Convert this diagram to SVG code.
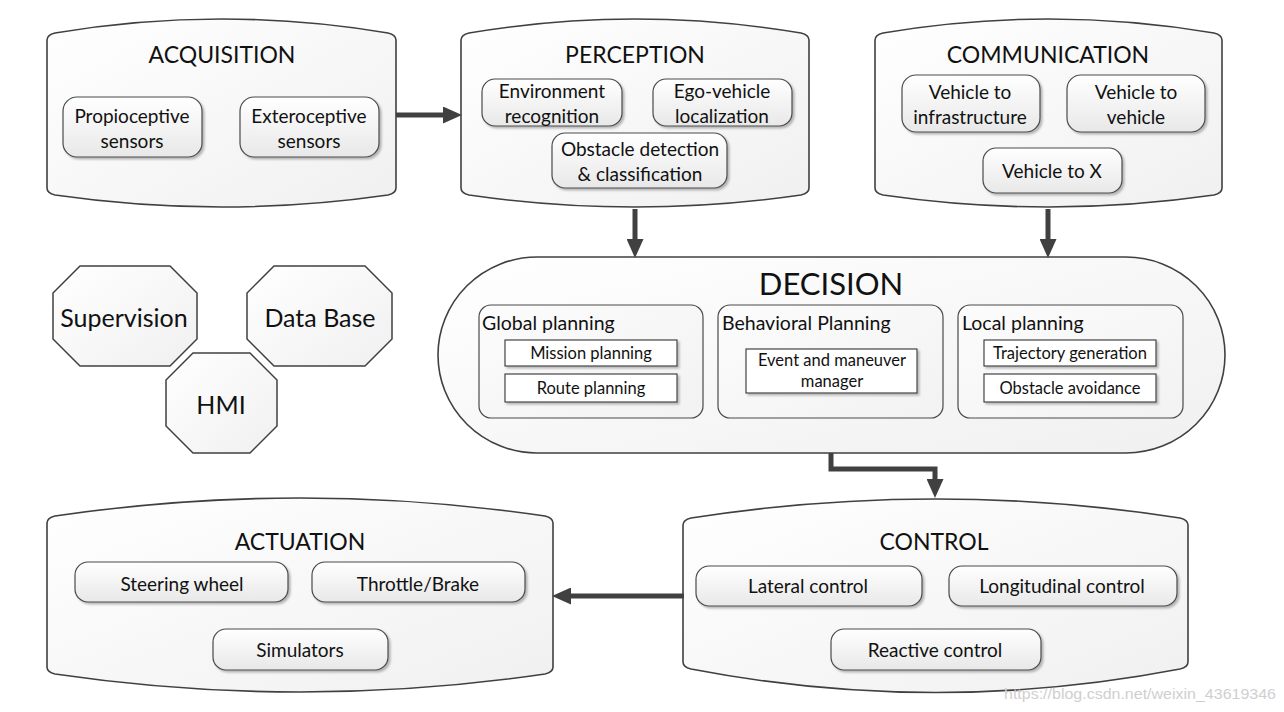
<svg xmlns="http://www.w3.org/2000/svg" width="1284" height="712" viewBox="0 0 1284 712">
<style>
text{font-family:Lato,"Liberation Sans",sans-serif;fill:#111;text-anchor:middle;dominant-baseline:central}
.cont{fill:url(#gc);stroke:#404040;stroke-width:1.6}
.box{fill:url(#gb);stroke:#4a4a4a;stroke-width:1.2;filter:url(#sh)}
.panel{fill:url(#gp);stroke:#4a4a4a;stroke-width:1.2}
.rect{fill:#fff;stroke:#333;stroke-width:1.1;filter:url(#sh)}
.oct{fill:url(#gc);stroke:#404040;stroke-width:1.5}
.t1{font-size:23px}
.t2{font-size:19px}
.t3{font-size:19.5px;text-anchor:start}
.t4{font-size:16.5px}
.t5{font-size:25px}
.conn{fill:none;stroke:#404040;stroke-width:5}
</style>
<defs>
<linearGradient id="gc" x1="0" y1="0" x2="1" y2="1"><stop offset="0" stop-color="#ffffff"/><stop offset="1" stop-color="#f0f0f0"/></linearGradient>
<linearGradient id="gb" x1="0" y1="0" x2="0" y2="1"><stop offset="0" stop-color="#ffffff"/><stop offset="1" stop-color="#e8e8e8"/></linearGradient>
<linearGradient id="gp" x1="0" y1="0" x2="1" y2="1"><stop offset="0" stop-color="#fcfcfc"/><stop offset="1" stop-color="#f2f2f2"/></linearGradient>
<filter id="sh" x="-10%" y="-10%" width="130%" height="140%"><feDropShadow dx="2" dy="2" stdDeviation="1.2" flood-color="#888" flood-opacity="0.6"/></filter>
<marker id="ah" markerUnits="userSpaceOnUse" markerWidth="19" markerHeight="17" refX="8" refY="8.5" orient="auto"><path d="M0,0 L19,8.5 L0,17 z" fill="#404040"/></marker>
</defs>

<g id="acquisition">
<path class="cont" d="M47,40 Q47,35 55,33 Q221.5,5 388,33 Q396,35 396,40 L396,188 Q396,193 388,195 Q221.5,219 55,195 Q47,193 47,188 Z"/>
<text class="t1" x="222" y="54">ACQUISITION</text>
<rect class="box" x="63" y="97" width="139" height="60" rx="14"/>
<text class="t2" x="132" y="115">Propioceptive</text><text class="t2" x="132" y="140">sensors</text>
<rect class="box" x="240" y="97" width="139" height="60" rx="14"/>
<text class="t2" x="309" y="115">Exteroceptive</text><text class="t2" x="309" y="140">sensors</text>
</g>

<g id="perception">
<path class="cont" d="M461,40 Q461,35 469,33 Q635,5 801,33 Q809,35 809,40 L809,188 Q809,193 801,195 Q635,219 469,195 Q461,193 461,188 Z"/>
<text class="t1" x="635" y="54">PERCEPTION</text>
<rect class="box" x="482" y="79" width="140" height="47" rx="13"/>
<text class="t2" x="552" y="90">Environment</text><text class="t2" x="552" y="115">recognition</text>
<rect class="box" x="653" y="79" width="139" height="47" rx="13"/>
<text class="t2" x="722" y="90">Ego-vehicle</text><text class="t2" x="722" y="115">localization</text>
<rect class="box" x="552" y="133" width="175" height="55" rx="13"/>
<text class="t2" x="640" y="148">Obstacle detection</text><text class="t2" x="640" y="173">&amp; classification</text>
</g>

<g id="communication">
<path class="cont" d="M875,40 Q875,35 883,33 Q1048.5,5 1214,33 Q1222,35 1222,40 L1222,188 Q1222,193 1214,195 Q1048.5,219 883,195 Q875,193 875,188 Z"/>
<text class="t1" x="1048" y="54">COMMUNICATION</text>
<rect class="box" x="902" y="75" width="138" height="57" rx="14"/>
<text class="t2" x="970" y="91">Vehicle to</text><text class="t2" x="970" y="116">infrastructure</text>
<rect class="box" x="1067" y="75" width="138" height="57" rx="14"/>
<text class="t2" x="1136" y="91">Vehicle to</text><text class="t2" x="1136" y="116">vehicle</text>
<rect class="box" x="983" y="148" width="139" height="45" rx="13"/>
<text class="t2" x="1052" y="170">Vehicle to X</text>
</g>

<g id="decision">
<path class="cont" d="M537,257 L1126,257 A99,98 0 0 1 1126,453 L537,453 A99,98 0 0 1 537,257 Z"/>
<text x="831" y="283" style="font-size:31px">DECISION</text>
<rect class="panel" x="479" y="305" width="224" height="113" rx="12"/>
<text class="t3" x="482" y="322">Global planning</text>
<rect class="rect" x="505" y="340" width="172" height="26"/>
<text class="t4" x="591" y="353">Mission planning</text>
<rect class="rect" x="505" y="374" width="172" height="28"/>
<text class="t4" x="591" y="388">Route planning</text>
<rect class="panel" x="718" y="305" width="225" height="113" rx="12"/>
<text class="t3" x="722" y="322">Behavioral Planning</text>
<rect class="rect" x="746" y="349" width="171" height="44"/>
<text class="t4" x="832" y="360">Event and maneuver</text><text class="t4" x="832" y="381">manager</text>
<rect class="panel" x="958" y="305" width="225" height="113" rx="12"/>
<text class="t3" x="962" y="322">Local planning</text>
<rect class="rect" x="984" y="340" width="172" height="26"/>
<text class="t4" x="1070" y="353">Trajectory generation</text>
<rect class="rect" x="984" y="374" width="172" height="28"/>
<text class="t4" x="1070" y="388">Obstacle avoidance</text>
</g>

<g id="supervision">
<polygon class="oct" points="80,266 170,266 197,293 197,339 170,366 80,366 53,339 53,293"/>
<text class="t5" x="124" y="317">Supervision</text>
</g>
<g id="database">
<polygon class="oct" points="274,266 365,266 392,293 392,339 365,366 274,366 247,339 247,293"/>
<text class="t5" x="320" y="317">Data Base</text>
</g>
<g id="hmi">
<polygon class="oct" points="193,353 250,353 277,380 277,426 250,453 193,453 166,426 166,380"/>
<text class="t5" x="221" y="404">HMI</text>
</g>

<g id="actuation">
<path class="cont" d="M47,523 Q47,518 55,516 Q300,480 545,516 Q553,518 553,523 L553,667 Q553,672 545,674 Q300,710 55,674 Q47,672 47,667 Z"/>
<text class="t1" x="300" y="541">ACTUATION</text>
<rect class="box" x="75" y="562" width="213" height="40" rx="13"/>
<text class="t2" x="182" y="583">Steering wheel</text>
<rect class="box" x="312" y="562" width="213" height="40" rx="13"/>
<text class="t2" x="418" y="583">Throttle/Brake</text>
<rect class="box" x="213" y="629" width="175" height="41" rx="13"/>
<text class="t2" x="300" y="649">Simulators</text>
</g>

<g id="control">
<path class="cont" d="M683,525 Q683,520 691,518 Q935.5,480 1180,518 Q1188,520 1188,525 L1188,662 Q1188,667 1180,669 Q935.5,716 691,669 Q683,667 683,662 Z"/>
<text class="t1" x="934" y="541">CONTROL</text>
<rect class="box" x="696" y="566" width="226" height="40" rx="13"/>
<text class="t2" x="808" y="585">Lateral control</text>
<rect class="box" x="949" y="566" width="228" height="40" rx="13"/>
<text class="t2" x="1062" y="585">Longitudinal control</text>
<rect class="box" x="831" y="629" width="210" height="41" rx="13"/>
<text class="t2" x="935" y="649">Reactive control</text>
</g>

<g id="connectors">
<path class="conn" d="M396,115 L451,115" marker-end="url(#ah)"/>
<path class="conn" d="M635,209 L635,247" marker-end="url(#ah)"/>
<path class="conn" d="M1048,209 L1048,247" marker-end="url(#ah)"/>
<path class="conn" d="M831,453 L831,469 L935,469 L935,487" marker-end="url(#ah)"/>
<path class="conn" d="M684,596 L563,596" marker-end="url(#ah)"/>
</g>

<text x="1276" y="693" style="font-family:'Liberation Sans',sans-serif;font-size:15px;fill:#cfcfcf;text-anchor:end" textLength="272" lengthAdjust="spacingAndGlyphs">https://blog.csdn.net/weixin_43619346</text>
</svg>
